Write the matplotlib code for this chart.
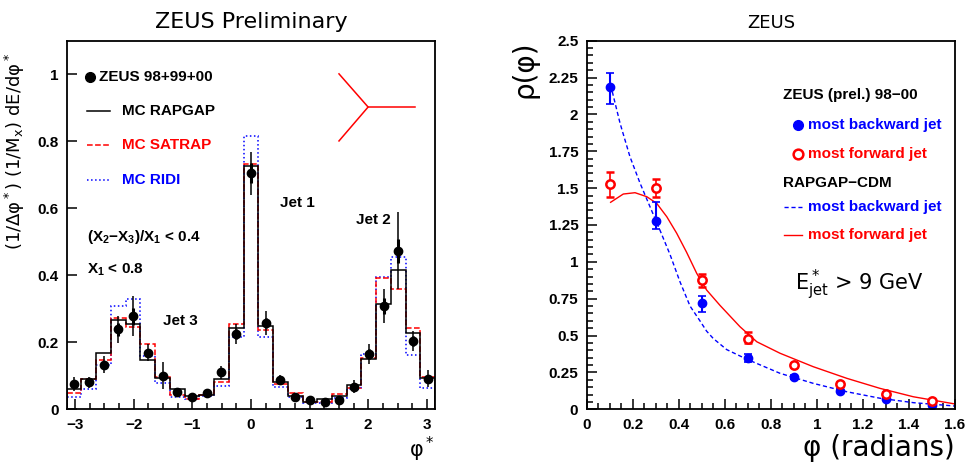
import numpy as np
import matplotlib
matplotlib.use('Agg')
import matplotlib.pyplot as plt
from matplotlib.ticker import MultipleLocator

plt.rcParams['font.family'] = ['Liberation Sans', 'DejaVu Sans']
plt.rcParams['mathtext.default'] = 'regular'
GEO = ['DejaVu Sans']

# ---- left panel: energy flow in phi* (25 bins over [-pi, pi]) ----
N_BINS = 25
data_y = [0.076, 0.080, 0.133, 0.239, 0.278, 0.169, 0.100, 0.052, 0.036, 0.050,
          0.110, 0.224, 0.704, 0.258, 0.087, 0.038, 0.028, 0.021, 0.028, 0.068,
          0.164, 0.308, 0.473, 0.204, 0.091]
data_err_tot = [0.020, 0.015, 0.025, 0.040, 0.060, 0.025, 0.040, 0.010, 0.010, 0.010,
                0.020, 0.030, 0.065, 0.035, 0.015, 0.010, 0.008, 0.008, 0.010, 0.020,
                0.030, 0.050, 0.115, 0.030, 0.025]
data_err_stat = [0.010, 0.008, 0.012, 0.020, 0.025, 0.012, 0.012, 0.006, 0.006, 0.006,
                 0.010, 0.015, 0.030, 0.015, 0.008, 0.006, 0.005, 0.005, 0.006, 0.010,
                 0.015, 0.025, 0.035, 0.015, 0.010]
rapgap = [0.062, 0.089, 0.167, 0.266, 0.254, 0.147, 0.092, 0.060, 0.040, 0.042,
          0.089, 0.242, 0.726, 0.250, 0.080, 0.040, 0.023, 0.030, 0.040, 0.072,
          0.149, 0.314, 0.417, 0.229, 0.094]
satrap = [0.048, 0.089, 0.147, 0.271, 0.245, 0.194, 0.097, 0.043, 0.032, 0.042,
          0.080, 0.254, 0.732, 0.237, 0.075, 0.048, 0.023, 0.021, 0.045, 0.063,
          0.152, 0.391, 0.358, 0.242, 0.097]
ridi = [0.038, 0.060, 0.132, 0.308, 0.328, 0.159, 0.078, 0.038, 0.030, 0.040,
        0.071, 0.215, 0.817, 0.215, 0.068, 0.036, 0.020, 0.018, 0.035, 0.060,
        0.165, 0.394, 0.455, 0.162, 0.063]

# ---- right panel: jet shapes rho(phi) ----
phi_pts = [0.1, 0.3, 0.5, 0.7, 0.9, 1.1, 1.3, 1.5]
back_y = [2.188, 1.277, 0.723, 0.350, 0.219, 0.127, 0.072, 0.029]
back_up = [0.090, 0.127, 0.046, 0.025, 0.012, 0.010, 0.008, 0.005]
back_dn = [0.118, 0.054, 0.061, 0.030, 0.012, 0.010, 0.008, 0.005]
fwd_y = [1.528, 1.503, 0.877, 0.475, 0.301, 0.170, 0.106, 0.054]
fwd_up = [0.084, 0.057, 0.041, 0.052, 0.015, 0.012, 0.010, 0.008]
fwd_dn = [0.086, 0.061, 0.050, 0.027, 0.015, 0.012, 0.010, 0.008]

mc_back_x = [0.104, 0.145, 0.188, 0.232, 0.275, 0.318, 0.362, 0.405, 0.449, 0.492,
             0.521, 0.55, 0.608, 0.695, 0.84, 0.984, 1.13, 1.274, 1.419, 1.6]
mc_back_y = [2.200, 1.940, 1.713, 1.533, 1.374, 1.216, 1.050, 0.866, 0.700, 0.600,
             0.530, 0.480, 0.405, 0.340, 0.244, 0.176, 0.119, 0.075, 0.045, 0.022]
mc_fwd_x = [0.104, 0.159, 0.21, 0.261, 0.304, 0.348, 0.391, 0.434, 0.478, 0.521,
            0.579, 0.666, 0.739, 0.84, 0.984, 1.13, 1.274, 1.419, 1.6]
mc_fwd_y = [1.404, 1.460, 1.469, 1.442, 1.397, 1.306, 1.194, 1.065, 0.922, 0.809,
            0.705, 0.560, 0.458, 0.380, 0.289, 0.210, 0.142, 0.085, 0.036]

edges = np.linspace(-np.pi, np.pi, N_BINS + 1)
centres = 0.5 * (edges[:-1] + edges[1:])

fig = plt.figure(figsize=(9.67, 4.65), dpi=100)
axL = fig.add_axes([0.069, 0.1198, 0.381, 0.7927])
axR = fig.add_axes([0.6067, 0.1198, 0.3809, 0.7927])

def style(ax):
    for s in ax.spines.values():
        s.set_linewidth(1.3)
    ax.tick_params(which='both', direction='in', top=False, right=False,
                   labelsize=11, width=1.1, pad=6)
    ax.tick_params(which='major', length=7)
    ax.tick_params(which='minor', length=4)
    for lab in ax.get_xticklabels() + ax.get_yticklabels():
        lab.set_fontweight('bold')

# left panel
axL.stairs(ridi, edges, color='blue', ls=':', lw=1.1)
axL.stairs(satrap, edges, color='red', ls='--', lw=1.1)
axL.stairs(rapgap, edges, color='black', ls='-', lw=1.1)
axL.errorbar(centres, data_y, yerr=data_err_tot, fmt='none', ecolor='black', elinewidth=1.1)
axL.errorbar(centres, data_y, yerr=data_err_stat, fmt='none', ecolor='black', elinewidth=2.2)
axL.plot(centres, data_y, 'o', color='black', ms=6)
axL.set_xlim(-np.pi, np.pi)
axL.set_ylim(0, 1.1)
axL.set_xticks([-3, -2, -1, 0, 1, 2, 3], ['−3', '−2', '−1', '0', '1', '2', '3'])
axL.xaxis.set_minor_locator(MultipleLocator(0.25))
axL.set_yticks([0, 0.2, 0.4, 0.6, 0.8, 1.0], ['0', '0.2', '0.4', '0.6', '0.8', '1'])
style(axL)
axL.set_title('ZEUS Preliminary', fontsize=16, pad=9, family=GEO)
axL.set_ylabel('(1/Δφ$^*$) (1/M$_x$) dE/dφ$^*$', fontsize=13, family=GEO)
axL.yaxis.set_label_coords(-0.108, 0.70)
axL.set_xlabel('φ$^*$', fontsize=15, loc='right', labelpad=2, family=GEO)

tL = axL.transAxes
axL.plot([0.063], [0.901], 'o', color='black', ms=7, transform=tL)
axL.text(0.087, 0.901, 'ZEUS 98+99+00', transform=tL, fontsize=11, fontweight='bold', va='center')
for yy, c, ls, lab in [(0.809, 'black', '-', 'MC RAPGAP'), (0.717, 'red', '--', 'MC SATRAP'),
                       (0.622, 'blue', ':', 'MC RIDI')]:
    axL.plot([0.055, 0.117], [yy, yy], color=c, ls=ls, lw=1.1, transform=tL)
    axL.text(0.150, yy, lab, color=c, transform=tL, fontsize=11, fontweight='bold', va='center')
axL.text(0.055, 0.467, '(X$_2$−X$_3$)/X$_1$ < 0.4', transform=tL, fontsize=11, fontweight='bold', va='center')
axL.text(0.055, 0.378, 'X$_1$ < 0.8', transform=tL, fontsize=11, fontweight='bold', va='center')
axL.text(0.579, 0.560, 'Jet 1', transform=tL, fontsize=11, fontweight='bold', va='center')
axL.text(0.786, 0.514, 'Jet 2', transform=tL, fontsize=11, fontweight='bold', va='center')
axL.text(0.261, 0.240, 'Jet 3', transform=tL, fontsize=11, fontweight='bold', va='center')
# three-jet sketch
axL.plot([0.739, 0.818, 0.739], [0.910, 0.820, 0.728], color='red', lw=1.1, transform=tL)
axL.plot([0.818, 0.946], [0.820, 0.820], color='red', lw=1.1, transform=tL)

# right panel
axR.plot(mc_back_x, mc_back_y, color='blue', ls='--', lw=1.0, dashes=(3, 2))
axR.plot(mc_fwd_x, mc_fwd_y, color='red', ls='-', lw=1.0)
axR.errorbar(phi_pts, back_y, yerr=[back_dn, back_up], fmt='o', color='blue', ms=6,
             capsize=3, elinewidth=1.5, capthick=1.2)
axR.errorbar(phi_pts, fwd_y, yerr=[fwd_dn, fwd_up], fmt='o', color='red', mfc='white',
             mec='red', mew=1.8, ms=6, capsize=3, elinewidth=1.2, capthick=1.2)
axR.set_xlim(0, 1.6)
axR.set_ylim(0, 2.5)
axR.set_xticks(np.arange(0, 1.61, 0.2), ['0', '0.2', '0.4', '0.6', '0.8', '1', '1.2', '1.4', '1.6'])
axR.xaxis.set_minor_locator(MultipleLocator(0.05))
axR.set_yticks(np.arange(0, 2.51, 0.25),
               ['0', '0.25', '0.5', '0.75', '1', '1.25', '1.5', '1.75', '2', '2.25', '2.5'])
axR.yaxis.set_minor_locator(MultipleLocator(0.05))
style(axR)
axR.set_title('ZEUS', fontsize=13, pad=9, family=GEO)
axR.set_ylabel('ρ(φ)', fontsize=20, loc='top', family=GEO)
axR.yaxis.set_label_coords(-0.13, 1.0)
axR.set_xlabel('φ (radians)', fontsize=20, loc='right', labelpad=2, family=GEO)

tR = axR.transAxes
axR.text(0.533, 0.853, 'ZEUS (prel.) 98−00', transform=tR, fontsize=11, fontweight='bold', va='center')
axR.plot([0.574], [0.771], 'o', color='blue', ms=7, transform=tR)
axR.text(0.601, 0.771, 'most backward jet', color='blue', transform=tR, fontsize=11, fontweight='bold', va='center')
axR.plot([0.574], [0.693], 'o', color='red', mfc='white', mew=1.8, ms=7, transform=tR)
axR.text(0.601, 0.693, 'most forward jet', color='red', transform=tR, fontsize=11, fontweight='bold', va='center')
axR.text(0.533, 0.614, 'RAPGAP−CDM', transform=tR, fontsize=11, fontweight='bold', va='center')
axR.plot([0.535, 0.584], [0.549, 0.549], color='blue', ls='--', dashes=(3, 2), lw=1.0, transform=tR)
axR.text(0.601, 0.549, 'most backward jet', color='blue', transform=tR, fontsize=11, fontweight='bold', va='center')
axR.plot([0.535, 0.584], [0.473, 0.473], color='red', lw=1.0, transform=tR)
axR.text(0.601, 0.473, 'most forward jet', color='red', transform=tR, fontsize=11, fontweight='bold', va='center')
axR.text(0.566, 0.337, 'E$^*_{jet}$ > 9 GeV', transform=tR, fontsize=15, va='center', family=GEO)

fig.savefig('out.png', dpi=100)
